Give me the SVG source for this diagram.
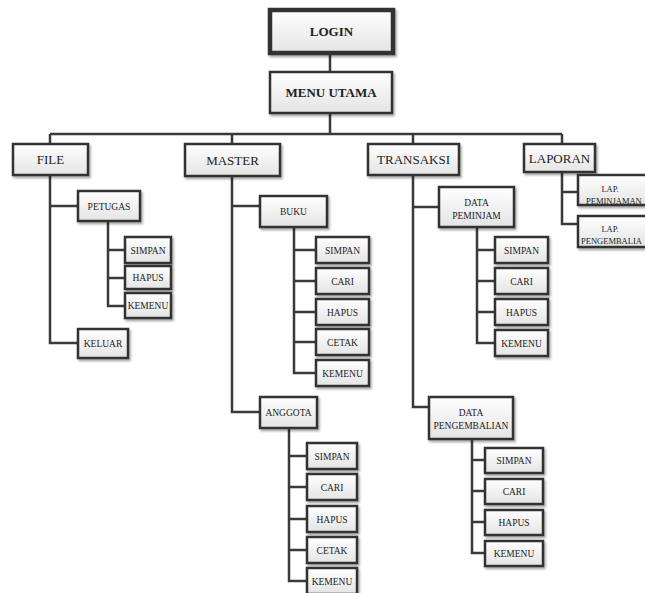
<svg xmlns="http://www.w3.org/2000/svg" width="645" height="593" viewBox="0 0 645 593">
<defs>
<linearGradient id="g" x1="0" y1="0" x2="0" y2="1">
<stop offset="0" stop-color="#ffffff"/>
<stop offset="1" stop-color="#e4e4e4"/>
</linearGradient>
<filter id="sh" x="-20%" y="-20%" width="150%" height="160%">
<feDropShadow dx="1.5" dy="2" stdDeviation="1.2" flood-color="#000" flood-opacity="0.35"/>
</filter>
</defs>
<style>
.b{fill:url(#g);stroke:#333;stroke-width:2.5;filter:url(#sh)}
.thick{stroke-width:4.5}
.c{fill:none;stroke:#3a3a3a;stroke-width:2.5}
text{font-family:"Liberation Serif","Times New Roman",serif;fill:#222;text-anchor:middle}
.t1{font-size:13px;font-weight:bold}
.t2{font-size:13px}
.t3{font-size:9.5px}
.t4{font-size:8.5px}
</style>
<rect width="645" height="593" fill="#fff"/>
<g id="connectors" class="c">
<path d="M330 53V72M330 113V134M50 134H562M50 134V144M232 134V144M413 134V144M562 134V144"/>
<path d="M50 175V343H78M50 206H78M108 221V306H125M108 250H125M108 278H125"/>
<path d="M232 176V412H260M232 206H260M294 227V373H316M294 250H316M294 281H316M294 312H316M294 342H316M289 428V581H307M289 456H307M289 487H307M289 519H307M289 550H307"/>
<path d="M413 175V407H429M413 207H439M477 227V343H495M477 250H495M477 281H495M477 312H495M472 439V553H485M472 460H485M472 491H485M472 522H485"/>
<path d="M562 172V224H578M562 192H578"/>
</g>
<g id="login"><rect class="b thick" x="270" y="10" width="123" height="43"/><text class="t1" x="331.5" y="36">LOGIN</text></g>
<g id="menu-utama"><rect class="b" x="270" y="72" width="122" height="41"/><text class="t1" x="331" y="97">MENU UTAMA</text></g>
<g id="file"><rect class="b" x="13" y="144" width="75" height="31"/><text class="t2" x="50.5" y="164">FILE</text></g>
<g id="petugas"><rect class="b" x="78" y="191" width="62" height="30"/><text class="t3" x="109" y="209.5">PETUGAS</text></g>
<g id="file-simpan"><rect class="b" x="125" y="237" width="46" height="26"/><text class="t3" x="148" y="253.5">SIMPAN</text></g>
<g id="file-hapus"><rect class="b" x="125" y="266" width="46" height="23"/><text class="t3" x="148" y="281">HAPUS</text></g>
<g id="file-kemenu"><rect class="b" x="125" y="293" width="46" height="25"/><text class="t3" x="148" y="309">KEMENU</text></g>
<g id="keluar"><rect class="b" x="78" y="329" width="50" height="29"/><text class="t3" x="103" y="346.5">KELUAR</text></g>
<g id="master"><rect class="b" x="185" y="144" width="95" height="32"/><text class="t2" x="232.5" y="164.5">MASTER</text></g>
<g id="buku"><rect class="b" x="260" y="196" width="67" height="31"/><text class="t3" x="293.5" y="215">BUKU</text></g>
<g id="buku-simpan"><rect class="b" x="316" y="237" width="53" height="26"/><text class="t3" x="342.5" y="253.5">SIMPAN</text></g>
<g id="buku-cari"><rect class="b" x="316" y="268" width="53" height="26"/><text class="t3" x="342.5" y="284.5">CARI</text></g>
<g id="buku-hapus"><rect class="b" x="316" y="299" width="53" height="26"/><text class="t3" x="342.5" y="315.5">HAPUS</text></g>
<g id="buku-cetak"><rect class="b" x="316" y="329" width="53" height="26"/><text class="t3" x="342.5" y="345.5">CETAK</text></g>
<g id="buku-kemenu"><rect class="b" x="316" y="360" width="53" height="26"/><text class="t3" x="342.5" y="376.5">KEMENU</text></g>
<g id="anggota"><rect class="b" x="260" y="397" width="57" height="31"/><text class="t3" x="288.5" y="416">ANGGOTA</text></g>
<g id="anggota-simpan"><rect class="b" x="307" y="443" width="50" height="26"/><text class="t3" x="332" y="459.5">SIMPAN</text></g>
<g id="anggota-cari"><rect class="b" x="307" y="474" width="50" height="26"/><text class="t3" x="332" y="490.5">CARI</text></g>
<g id="anggota-hapus"><rect class="b" x="307" y="506" width="50" height="26"/><text class="t3" x="332" y="522.5">HAPUS</text></g>
<g id="anggota-cetak"><rect class="b" x="307" y="537" width="50" height="26"/><text class="t3" x="332" y="553.5">CETAK</text></g>
<g id="anggota-kemenu"><rect class="b" x="307" y="568" width="50" height="26"/><text class="t3" x="332" y="584.5">KEMENU</text></g>
<g id="transaksi"><rect class="b" x="368" y="144" width="91" height="31"/><text class="t2" x="413.5" y="164">TRANSAKSI</text></g>
<g id="data-peminjam"><rect class="b" x="439" y="187" width="75" height="40"/><text class="t3" x="476.5" y="206">DATA</text><text class="t3" x="476.5" y="219">PEMINJAM</text></g>
<g id="pinjam-simpan"><rect class="b" x="495" y="237" width="53" height="26"/><text class="t3" x="521.5" y="253.5">SIMPAN</text></g>
<g id="pinjam-cari"><rect class="b" x="495" y="268" width="53" height="26"/><text class="t3" x="521.5" y="284.5">CARI</text></g>
<g id="pinjam-hapus"><rect class="b" x="495" y="299" width="53" height="26"/><text class="t3" x="521.5" y="315.5">HAPUS</text></g>
<g id="pinjam-kemenu"><rect class="b" x="495" y="330" width="53" height="26"/><text class="t3" x="521.5" y="346.5">KEMENU</text></g>
<g id="data-pengembalian"><rect class="b" x="429" y="397" width="84" height="42"/><text class="t3" x="471" y="416">DATA</text><text class="t3" x="471" y="429">PENGEMBALIAN</text></g>
<g id="kembali-simpan"><rect class="b" x="485" y="448" width="58" height="25"/><text class="t3" x="514" y="464">SIMPAN</text></g>
<g id="kembali-cari"><rect class="b" x="485" y="479" width="58" height="25"/><text class="t3" x="514" y="495">CARI</text></g>
<g id="kembali-hapus"><rect class="b" x="485" y="510" width="58" height="25"/><text class="t3" x="514" y="526">HAPUS</text></g>
<g id="kembali-kemenu"><rect class="b" x="485" y="541" width="58" height="25"/><text class="t3" x="514" y="557">KEMENU</text></g>
<g id="laporan"><rect class="b" x="524" y="144" width="71" height="28"/><text class="t2" x="559.5" y="162.5">LAPORAN</text></g>
<g id="lap-peminjaman"><rect class="b" x="578" y="175" width="72" height="30"/><text class="t4" x="610" y="192">LAP.</text><text class="t4" x="586" y="204" style="text-anchor:start">PEMINJAMAN</text></g>
<g id="lap-pengembalian"><rect class="b" x="578" y="216" width="72" height="31"/><text class="t4" x="610" y="232">LAP.</text><text class="t4" x="581" y="244" style="text-anchor:start">PENGEMBALIA</text></g>
</svg>
